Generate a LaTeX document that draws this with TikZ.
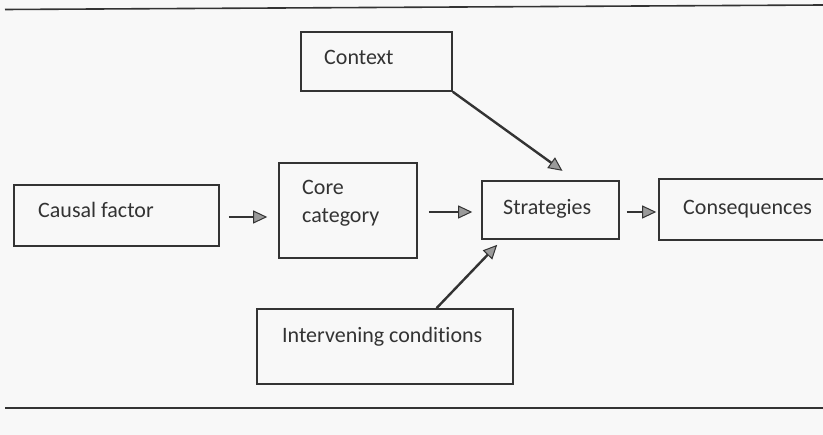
\documentclass[tikz,border=0pt]{standalone}
\usepackage{fontspec}
\setmainfont[Ligatures=NoCommon]{Carlito}
\usetikzlibrary{arrows.meta,calc}
\definecolor{ink}{HTML}{333333}
\definecolor{paper}{HTML}{F8F8F8}
\definecolor{headfill}{HTML}{9A9A9A}
\tikzset{
  box/.style={draw=ink, line width=1.6pt, rectangle, inner sep=0pt},
  lbl/.style={anchor=base west, inner sep=0pt, text=ink, font=\fontsize{22}{28}\selectfont},
  flow/.style={draw=ink, line width=2.4pt, -{Triangle[length=14pt,width=13pt,fill=headfill,line width=1pt]}},
  rule/.style={draw=ink, line width=1.6pt}
}
\begin{document}
\begin{tikzpicture}[x=1pt,y=-1pt]
\useasboundingbox (0,0) rectangle (823,435);
\fill[paper] (0,0) rectangle (823,435);
\clip (0,0) rectangle (823,435);
% rules
\coordinate (t1) at (5,9.5);
\coordinate (t2) at (823,5);
\coordinate (b1) at (5,408);
\coordinate (b2) at (823,408);
\draw[rule] (t1) -- (t2);
\draw[rule] (b1) -- (b2);
% boxes
\node[box, minimum width=151pt, minimum height=59pt] (ctx) at (376.5,61.5) {};
\node[box, minimum width=205pt, minimum height=61pt] (cf) at (116.5,215.5) {};
\node[box, minimum width=138pt, minimum height=95pt] (core) at (348,210.5) {};
\node[box, minimum width=137pt, minimum height=58pt] (str) at (550.5,210) {};
\node[box, minimum width=200pt, minimum height=61pt] (con) at (759,209.5) {};
\node[box, minimum width=256pt, minimum height=75pt] (int) at (385,346.5) {};
% labels
\node[lbl] (tctx) at (324,65) {Context};
\node[lbl] (tcf) at (38,218) {Causal factor};
\node[lbl] (tcore1) at (302,195) {Core};
\node[lbl] (tcore2) at (302,223) {category};
\node[lbl] (tstr) at (503,215) {Strategies};
\node[lbl] (tcon) at (683,215) {Consequences};
\node[lbl] (tint) at (282,343) {Intervening conditions};
% connectors
\draw[flow, shorten <=9pt, shorten >=11pt] (cf.east |- 0,217) -- (core.west |- 0,217);
\draw[flow, shorten <=11pt, shorten >=9pt] (core.east |- 0,212) -- (str.west |- 0,212);
\draw[flow, shorten <=7pt, shorten >=2pt] (str.east |- 0,212) -- (con.west |- 0,212);
\draw[flow, shorten >=16pt] (ctx.south east) -- ($(str.north west)!0.68!(str.north east)$);
\draw[flow, shorten >=7pt] ($(int.north west)!0.70!(int.north east)$) -- ($(str.south west)!0.15!(str.south east)$);
\end{tikzpicture}
\end{document}
